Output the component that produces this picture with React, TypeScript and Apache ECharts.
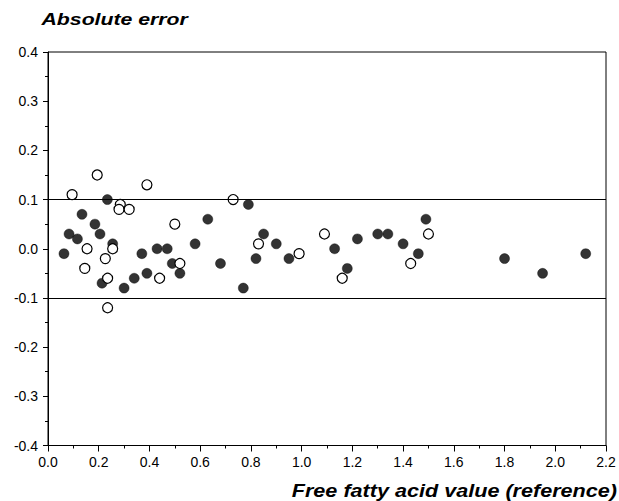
import React, { useEffect, useRef } from "react";
import * as echarts from "echarts";

// Filled circles
const filledX = [0.063, 0.083, 0.116, 0.134, 0.185, 0.205, 0.234, 0.255, 0.213, 0.30, 0.34, 0.37, 0.39, 0.43, 0.47, 0.49, 0.52, 0.58, 0.63, 0.68, 0.77, 0.79, 0.82, 0.85, 0.90, 0.95, 1.13, 1.18, 1.22, 1.30, 1.34, 1.40, 1.46, 1.49, 1.80, 1.95, 2.12];
const filledY = [-0.01, 0.03, 0.02, 0.07, 0.05, 0.03, 0.10, 0.01, -0.07, -0.08, -0.06, -0.01, -0.05, 0.0, 0.0, -0.03, -0.05, 0.01, 0.06, -0.03, -0.08, 0.09, -0.02, 0.03, 0.01, -0.02, 0.0, -0.04, 0.02, 0.03, 0.03, 0.01, -0.01, 0.06, -0.02, -0.05, -0.01];

// Open circles
const openX = [0.095, 0.194, 0.39, 0.285, 0.28, 0.32, 0.50, 0.154, 0.255, 0.226, 0.145, 0.235, 0.44, 0.235, 0.52, 0.73, 0.83, 0.99, 1.09, 1.50, 1.43, 1.16];
const openY = [0.11, 0.15, 0.13, 0.09, 0.08, 0.08, 0.05, 0.0, 0.0, -0.02, -0.04, -0.06, -0.06, -0.12, -0.03, 0.10, 0.01, -0.01, 0.03, 0.03, -0.03, -0.06];

// Limit lines
const limitLines = [0.1, -0.1];

const xMin = 0;
const xMax = 2.2;
const xStep = 0.2;
const yMin = -0.4;
const yMax = 0.4;
const yStep = 0.1;

const yTitle = "Absolute error";
const xTitle = "Free fatty acid value (reference)";

export default function App() {
  const ref = useRef<HTMLDivElement>(null);
  useEffect(() => {
    const chart = echarts.init(ref.current!, null, { renderer: "svg" });
    const font = "'Liberation Sans', Arial, sans-serif";
    chart.setOption({
      animation: false,
      backgroundColor: "#fff",
      grid: {
        left: 48,
        right: 13,
        top: 52,
        bottom: 55.5,
        show: true,
        borderColor: "#000",
        borderWidth: 1,
        backgroundColor: "transparent",
      },
      xAxis: {
        type: "value",
        min: xMin,
        max: xMax,
        interval: xStep,
        axisLine: { show: true, onZero: false, lineStyle: { color: "#000", width: 1 } },
        axisTick: { show: true, inside: false, length: 6, lineStyle: { color: "#000" } },
        minorTick: { show: true, splitNumber: 2, length: 3, lineStyle: { color: "#000" } },
        splitLine: { show: false },
        axisLabel: {
          color: "#000",
          fontSize: 14,
          fontFamily: font,
          margin: 9,
          formatter: (v: number) => v.toFixed(1),
        },
      },
      yAxis: {
        type: "value",
        min: yMin,
        max: yMax,
        interval: yStep,
        axisLine: { show: true, onZero: false, lineStyle: { color: "#000", width: 1 } },
        axisTick: { show: true, inside: false, length: 5, lineStyle: { color: "#000" } },
        minorTick: { show: true, splitNumber: 2, length: 3, lineStyle: { color: "#000" } },
        splitLine: { show: false },
        axisLabel: {
          color: "#000",
          fontSize: 14,
          fontFamily: font,
          margin: 10,
          formatter: (v: number) => v.toFixed(1),
        },
      },
      graphic: [
        {
          type: "text",
          x: 41.5,
          y: 19.5,
          scaleX: 1.25,
          style: {
            text: yTitle,
            fill: "#000",
            font: `italic bold 17px ${font}`,
            align: "left",
            verticalAlign: "middle",
          },
        },
        {
          type: "text",
          x: 617,
          y: 490.5,
          scaleX: 1.2,
          style: {
            text: xTitle,
            fill: "#000",
            font: `italic bold 18px ${font}`,
            align: "right",
            verticalAlign: "middle",
          },
        },
      ],
      series: [
        {
          type: "scatter",
          name: "filled",
          data: filledX.map((x, i) => [x, filledY[i]]),
          symbol: "circle",
          symbolSize: 10,
          itemStyle: { color: "#000", borderColor: "#000", borderWidth: 0.5 },
          markLine: {
            silent: true,
            symbol: "none",
            label: { show: false },
            lineStyle: { color: "#000", type: "solid", width: 1.2 },
            data: limitLines.map((v) => ({ yAxis: v })),
          },
          z: 2,
        },
        {
          type: "scatter",
          name: "open",
          data: openX.map((x, i) => [x, openY[i]]),
          symbol: "circle",
          symbolSize: 10,
          itemStyle: { color: "#fff", borderColor: "#000", borderWidth: 1.2, opacity: 1 },
          z: 3,
        },
      ],
    });
    return () => chart.dispose();
  }, []);
  return (
    <div
      ref={ref}
      style={{ width: 619, height: 501, position: "absolute", left: 0, top: 0 }}
    />
  );
}
